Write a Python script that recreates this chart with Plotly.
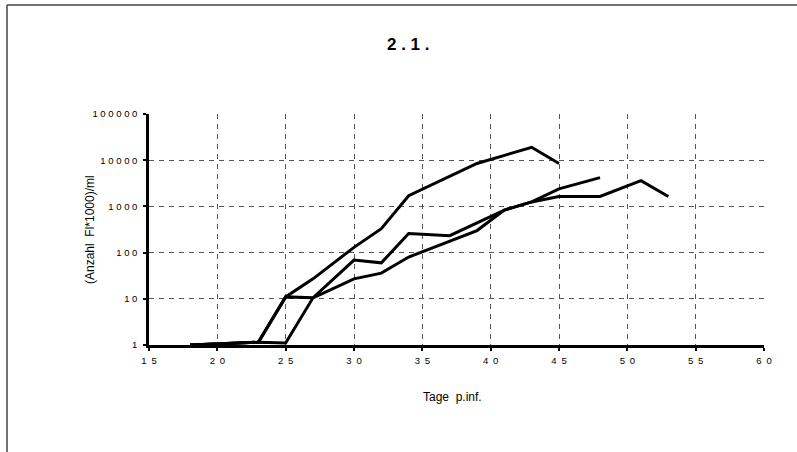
import plotly.graph_objects as go

# Days post infection and counts (Anzahl Fl*1000/ml) for three series
days_a = [18, 23, 25, 27, 30, 32, 34, 37, 39, 43, 45]
vals_a = [1, 1.15, 11, 27, 130, 330, 1700, 4400, 8500, 19000, 8500]

days_b = [18, 23, 25, 27, 30, 32, 34, 37, 41, 43, 45, 48]
vals_b = [1, 1.15, 11, 10.5, 69, 60, 258, 233, 830, 1250, 2400, 4200]

days_c = [18, 23, 25, 27, 30, 32, 34, 39, 41, 43, 45, 48, 51, 53]
vals_c = [1, 1.15, 1.1, 10.5, 27, 36, 80, 300, 830, 1250, 1640, 1640, 3600, 1640]

x_ticks = [15, 20, 25, 30, 35, 40, 45, 50, 55, 60]
y_ticks = [1, 10, 100, 1000, 10000, 100000]

def spaced(n, sep):
    return sep.join(str(n))

title_text = "2.1."
x_title = "Tage  p.inf."
y_title = "(Anzahl  Fl*1000)/ml"

W, H = 797, 452
L, R, T, B = 149, 33, 114, 107
pw, ph = W - L - R, H - T - B

fig = go.Figure()
for xs, ys in [(days_a, vals_a), (days_b, vals_b), (days_c, vals_c)]:
    fig.add_trace(go.Scatter(x=xs, y=ys, mode="lines",
                             line=dict(color="black", width=3),
                             showlegend=False, hoverinfo="skip"))

def px_x(p):
    return (p - L) / pw

def px_y(p):
    return (H - B - p) / ph

fig.update_layout(
    width=W, height=H,
    margin=dict(l=L, r=R, t=T, b=B),
    paper_bgcolor="white", plot_bgcolor="white",
    font=dict(family="Liberation Sans, Arial, sans-serif", color="black"),
    xaxis=dict(range=[15, 60], tickvals=x_ticks,
               ticktext=[spaced(v, "\u2002") for v in x_ticks],
               showline=True, linecolor="black", linewidth=2.5,
               ticks="outside", ticklen=3, tickwidth=2, tickcolor="black",
               showgrid=True, gridcolor="#555", gridwidth=1, griddash="5px,5px",
               zeroline=False, tickfont=dict(size=9.5), ticklabelstandoff=2),
    yaxis=dict(type="log", range=[0, 5], tickvals=y_ticks,
               ticktext=[spaced(v, " ") for v in y_ticks],
               showline=True, linecolor="black", linewidth=2.5,
               ticks="outside", ticklen=3, tickwidth=2, tickcolor="black",
               showgrid=True, gridcolor="#555", gridwidth=1, griddash="5px,5px",
               zeroline=False, tickfont=dict(size=9.5), ticklabelstandoff=4),
    annotations=[
        dict(text="<b>" + " . ".join(["2", "1"]) + " .</b>", x=px_x(408), y=px_y(44),
             xref="paper", yref="paper", showarrow=False,
             font=dict(size=17), xanchor="center", yanchor="middle"),
        dict(text=x_title, x=px_x(452), y=px_y(397),
             xref="paper", yref="paper", showarrow=False,
             font=dict(size=12), xanchor="center", yanchor="middle"),
        dict(text=y_title, x=px_x(90), y=px_y(230), textangle=-90,
             xref="paper", yref="paper", showarrow=False,
             font=dict(size=12), xanchor="center", yanchor="middle"),
    ],
    shapes=[
        dict(type="line", xref="paper", yref="paper",
             x0=px_x(7), x1=px_x(820), y0=px_y(5), y1=px_y(5),
             line=dict(color="#444", width=1.5)),
        dict(type="line", xref="paper", yref="paper",
             x0=px_x(7), x1=px_x(7), y0=px_y(5), y1=px_y(470),
             line=dict(color="#444", width=1.5)),
    ],
)

fig.write_html("out.html")
